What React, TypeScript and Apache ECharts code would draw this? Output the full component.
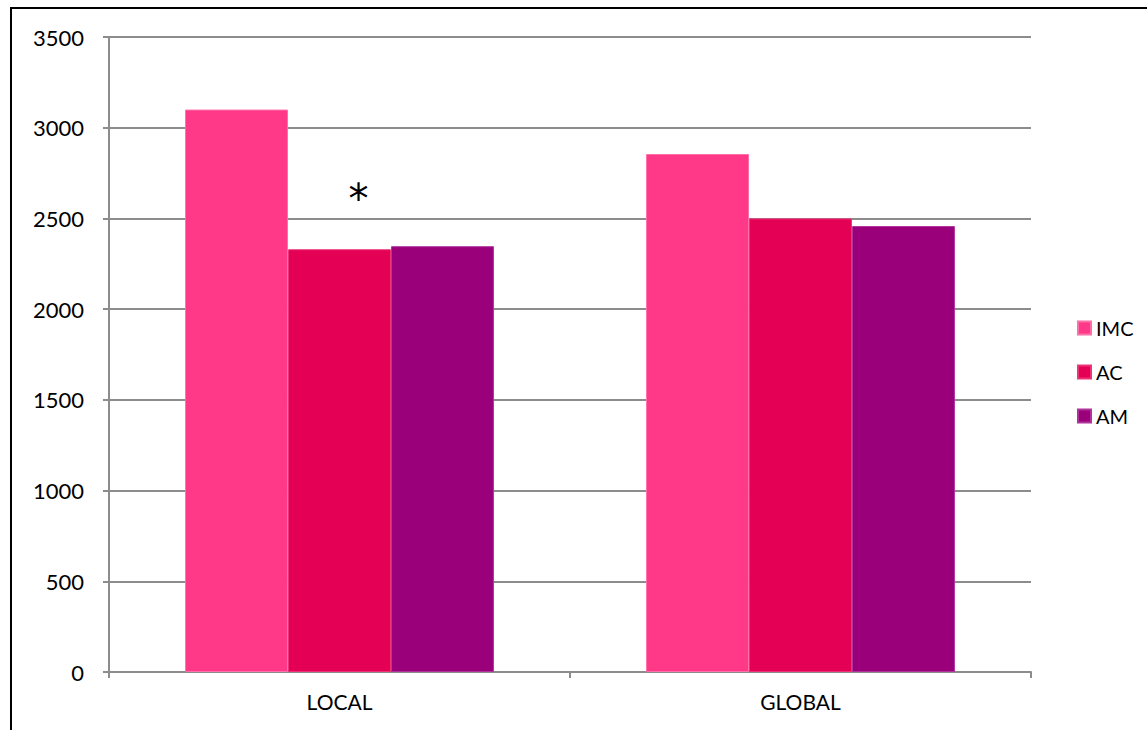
import React, { useEffect, useRef } from "react";
import * as echarts from "echarts";

const categories = ["LOCAL", "GLOBAL"];
const seriesNames = ["IMC", "AC", "AM"];
const imcValues = [3100, 2855];
const acValues = [2330, 2500];
const amValues = [2347, 2458];
const yTicks = { min: 0, max: 3500, interval: 500 };
const colors = ["#FF3887", "#E30055", "#9B007B"];
const borderColors = ["#FF6FA8", "#EE3377", "#B0339A"];
const annotation = "*";

export default function App() {
  const ref = useRef<HTMLDivElement>(null);
  useEffect(() => {
    const chart = echarts.init(ref.current!, null, { renderer: "svg" });
    const font = "Lato, 'DejaVu Sans', sans-serif";
    const data = [imcValues, acValues, amValues];
    chart.setOption({
      animation: false,
      backgroundColor: "#ffffff",
      textStyle: { fontFamily: font },
      graphic: [
        {
          type: "rect",
          shape: { x: 11, y: 8, width: 1160, height: 760 },
          style: { fill: "none", stroke: "#000", lineWidth: 2 },
          silent: true,
        },
      ],
      legend: {
        orient: "vertical",
        left: 1072,
        top: 313,
        itemWidth: 13,
        itemHeight: 13,
        itemGap: 24,
        icon: "rect",
        textStyle: { fontSize: 20, color: "#000", fontFamily: font },
        data: seriesNames,
      },
      grid: { left: 109, right: 116, top: 37, bottom: 58, containLabel: false },
      xAxis: {
        type: "category",
        data: categories,
        axisLine: { lineStyle: { color: "#8c8c8c", width: 2 } },
        axisTick: { show: true, length: 6, lineStyle: { color: "#8c8c8c", width: 2 } },
        axisLabel: { color: "#000", fontSize: 21, margin: 19, fontFamily: font },
      },
      yAxis: {
        type: "value",
        min: yTicks.min,
        max: yTicks.max,
        interval: yTicks.interval,
        axisLine: { show: true, lineStyle: { color: "#8c8c8c", width: 2 } },
        axisTick: { show: true, length: 6, lineStyle: { color: "#8c8c8c", width: 2 } },
        axisLabel: {
          color: "#000",
          fontSize: 22,
          margin: 25,
          fontFamily: font,
          formatter: (v: number) => String(v),
        },
        splitLine: { lineStyle: { color: "#8c8c8c", width: 2 } },
      },
      series: seriesNames.map((name, i) => ({
        name,
        type: "bar",
        barGap: "0%",
        barCategoryGap: "33%",
        itemStyle: { color: colors[i], borderColor: borderColors[i], borderWidth: 1 },
        data: data[i].map((v, j) =>
          i === 1 && j === 0
            ? {
                value: v,
                label: {
                  show: true,
                  position: "top",
                  formatter: annotation,
                  distance: 30,
                  offset: [19, 0],
                  fontSize: 40,
                  color: "#000",
                  fontFamily: "'DejaVu Sans', sans-serif",
                },
              }
            : v
        ),
      })),
    });
    return () => chart.dispose();
  }, []);
  return (
    <div
      ref={ref}
      style={{ position: "absolute", left: 0, top: 0, width: 1147, height: 730 }}
    />
  );
}
